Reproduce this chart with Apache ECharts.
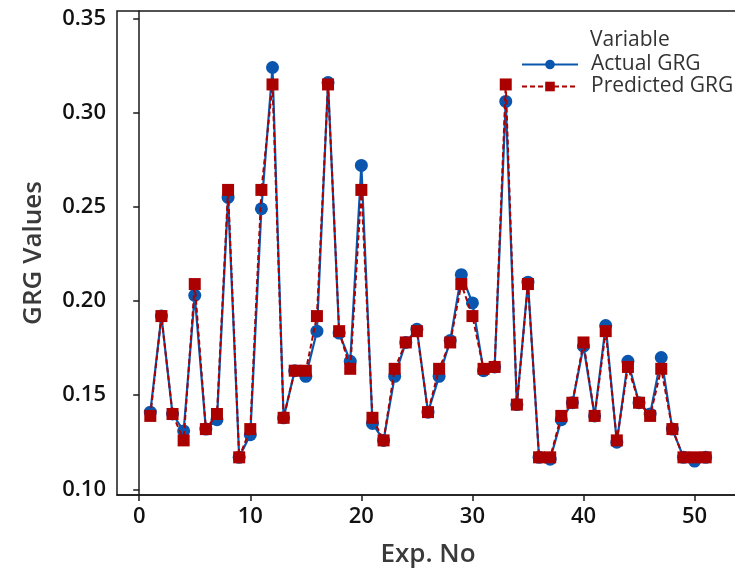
<!DOCTYPE html>
<html>
<head>
<meta charset="utf-8">
<script src="https://cdn.jsdelivr.net/npm/echarts@6/dist/echarts.min.js"></script>
<style>
  html, body { margin: 0; padding: 0; background: #fff; }
  #chart { width: 735px; height: 568px; }
</style>
</head>
<body>
<div id="chart"></div>
<script>
// GRG: actual vs predicted per experiment
const expNo = Array.from({ length: 51 }, (_, i) => i + 1);

const actualGRG = [
    0.141, 0.192, 0.140, 0.131, 0.203, 0.132, 0.137, 0.255, 0.117, 0.129,
    0.249, 0.324, 0.138, 0.163, 0.160, 0.184, 0.316, 0.183, 0.168, 0.272,
    0.135, 0.126, 0.160, 0.178, 0.185, 0.141, 0.160, 0.179, 0.214, 0.199,
    0.163, 0.165, 0.306, 0.145, 0.210, 0.117, 0.116, 0.137, 0.146, 0.176,
    0.139, 0.187, 0.125, 0.168, 0.146, 0.140, 0.170, 0.132, 0.117, 0.115,
    0.117
];

const predictedGRG = [
    0.139, 0.192, 0.140, 0.126, 0.209, 0.132, 0.140, 0.259, 0.117, 0.132,
    0.259, 0.315, 0.138, 0.163, 0.163, 0.192, 0.315, 0.184, 0.164, 0.259,
    0.138, 0.126, 0.164, 0.178, 0.184, 0.141, 0.164, 0.178, 0.209, 0.192,
    0.164, 0.165, 0.315, 0.145, 0.209, 0.117, 0.117, 0.139, 0.146, 0.178,
    0.139, 0.184, 0.126, 0.165, 0.146, 0.139, 0.164, 0.132, 0.117, 0.117,
    0.117
];

const xTicks = [0, 10, 20, 30, 40, 50];
const yTicks = [0.10, 0.15, 0.20, 0.25, 0.30, 0.35];

const BLUE = "#0A56AE";
const RED = "#AA0000";
const FONT = "Open Sans";

const chart = echarts.init(document.getElementById("chart"));

chart.setOption({
    backgroundColor: "#fff",
    animation: false,
    textStyle: { fontFamily: FONT },
    grid: {
        left: 117,
        right: -4,
        top: 11,
        bottom: 73,
        outerBoundsMode: "none",
        containLabel: false,
        show: true,
        borderColor: "#1a1a1a",
        borderWidth: 1.5
    },
    graphic: [{
        type: "text",
        left: 590,
        top: 30,
        style: { text: "Variable", fontSize: 21, fontWeight: 500, fontFamily: FONT, fill: "#333" }
    }],
    legend: {
        orient: "vertical",
        left: 521,
        top: 54,
        padding: 0,
        itemGap: 1,
        itemWidth: 56,
        itemHeight: 12,
        textStyle: { fontSize: 21, fontWeight: 500, color: "#333", padding: [0, 0, 0, 8] },
        data: ["Actual GRG", "Predicted GRG"]
    },
    xAxis: {
        type: "value",
        min: -2,
        max: 54,
        name: "Exp. No",
        nameLocation: "middle",
        nameGap: 47,
        nameTextStyle: { fontSize: 26, fontWeight: 600, color: "#3a3a3a" },
        splitLine: { show: false },
        axisLine: { show: true, onZero: false, lineStyle: { color: "#1a1a1a", width: 1.5 } },
        axisTick: { show: true, length: 6, customValues: xTicks, lineStyle: { color: "#1a1a1a", width: 1.5 } },
        axisLabel: { fontSize: 22, fontWeight: 600, color: "#111", margin: 11, customValues: xTicks }
    },
    yAxis: {
        type: "value",
        min: 0.097,
        max: 0.354,
        name: "GRG Values",
        nameLocation: "middle",
        nameGap: 70,
        nameTextStyle: { fontSize: 26, fontWeight: 600, color: "#3a3a3a" },
        splitLine: { show: false },
        axisLine: { show: true, lineStyle: { color: "#1a1a1a", width: 1.5 } },
        axisTick: { show: true, length: 6, customValues: yTicks, lineStyle: { color: "#1a1a1a", width: 1.5 } },
        axisLabel: {
            fontSize: 22,
            fontWeight: 600,
            color: "#111",
            margin: 11,
            customValues: yTicks,
            formatter: v => v.toFixed(2)
        }
    },
    series: [
        {
            name: "Actual GRG",
            type: "line",
            data: expNo.map((x, i) => [x, actualGRG[i]]),
            symbol: "circle",
            symbolSize: 13,
            itemStyle: { color: BLUE },
            lineStyle: { color: BLUE, width: 2.2 },
            z: 2
        },
        {
            name: "Predicted GRG",
            type: "line",
            data: expNo.map((x, i) => [x, predictedGRG[i]]),
            symbol: "rect",
            symbolSize: 12,
            itemStyle: { color: RED },
            lineStyle: { color: RED, width: 2, type: [5, 3] },
            z: 3
        }
    ]
});
</script>
</body>
</html>
